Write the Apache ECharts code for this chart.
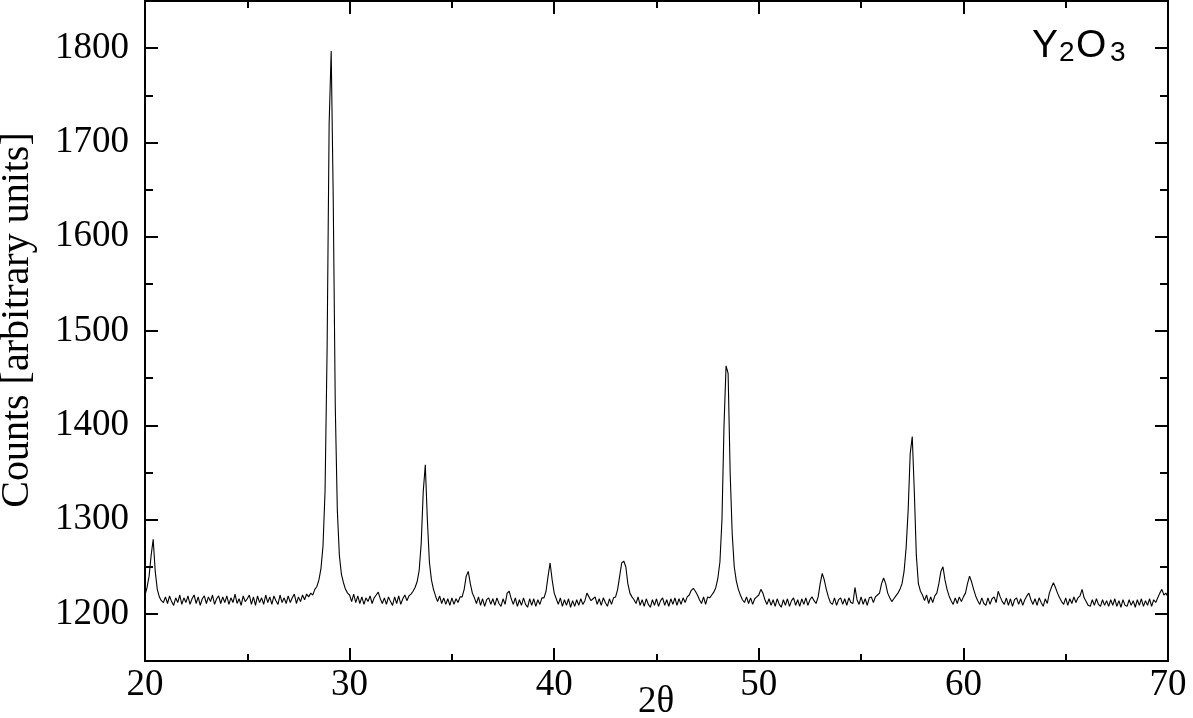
<!DOCTYPE html>
<html><head><meta charset="utf-8">
<script src="https://cdn.jsdelivr.net/npm/echarts@6/dist/echarts.min.js"></script>
<style>html,body{margin:0;padding:0;background:#fff}#c{width:1193px;height:718px}</style>
</head><body><div id="c"></div>
<script>
// 2θ sampling of the scan (degrees)
const thetaStart = 20;
const thetaStep = 0.1;
const counts = [
 1220,1228,1240,1262,1279,1245,1226,1218,1214,1212, // 20
 1218,1211,1219,1213,1209,1217,1212,1220,1210,1217, // 21
 1212,1219,1210,1216,1220,1211,1218,1209,1216,1219, // 22
 1211,1218,1213,1220,1210,1216,1219,1211,1218,1212, // 23
 1219,1210,1217,1212,1221,1211,1216,1209,1219,1213, // 24
 1216,1220,1210,1218,1209,1219,1212,1217,1210,1220, // 25
 1212,1218,1210,1219,1214,1210,1220,1212,1217,1211, // 26
 1219,1212,1217,1221,1211,1218,1213,1220,1215,1221, // 27
 1218,1222,1220,1226,1229,1236,1248,1272,1330,1480, // 28
 1720,1797,1640,1420,1310,1262,1242,1233,1226,1222, // 29
 1220,1213,1221,1212,1219,1211,1218,1210,1217,1213, // 30
 1219,1211,1217,1220,1223,1216,1211,1217,1210,1218, // 31
 1213,1209,1218,1211,1219,1210,1216,1220,1214,1219, // 32
 1221,1224,1228,1234,1246,1275,1330,1358,1300,1255, // 33
 1236,1226,1219,1213,1219,1211,1217,1210,1216,1209, // 34
 1217,1210,1216,1212,1218,1218,1226,1240,1245,1232, // 35
 1222,1217,1211,1218,1209,1216,1208,1215,1217,1210, // 36
 1216,1209,1217,1211,1208,1216,1210,1222,1224,1216, // 37
 1210,1217,1208,1215,1209,1217,1210,1207,1216,1209, // 38
 1216,1208,1215,1210,1217,1217,1224,1240,1254,1236, // 39
 1222,1216,1210,1217,1208,1215,1209,1216,1207,1214, // 40
 1208,1215,1209,1216,1210,1214,1222,1218,1214,1216, // 41
 1218,1210,1216,1209,1217,1212,1208,1216,1210,1217, // 42
 1218,1226,1240,1254,1256,1250,1232,1222,1218,1215, // 43
 1211,1218,1209,1215,1208,1216,1210,1207,1215,1209, // 44
 1216,1208,1214,1217,1209,1215,1208,1216,1210,1217, // 45
 1209,1216,1210,1217,1212,1218,1220,1225,1227,1224, // 46
 1220,1215,1211,1218,1210,1218,1217,1220,1223,1228, // 47
 1238,1255,1300,1400,1463,1455,1350,1285,1250,1235, // 48
 1226,1220,1215,1212,1218,1211,1217,1210,1216,1218, // 49
 1220,1226,1222,1215,1210,1216,1209,1215,1208,1216, // 50
 1210,1207,1215,1209,1216,1208,1214,1217,1209,1215, // 51
 1208,1216,1210,1217,1209,1215,1218,1214,1211,1218, // 52
 1232,1243,1236,1226,1218,1212,1210,1217,1209,1215, // 53
 1217,1210,1216,1209,1217,1212,1211,1228,1215,1210, // 54
 1218,1210,1216,1209,1217,1218,1212,1218,1220,1222, // 55
 1232,1238,1232,1222,1217,1213,1216,1219,1222,1226, // 56
 1232,1245,1270,1310,1370,1388,1330,1262,1232,1224, // 57
 1220,1214,1220,1211,1218,1212,1219,1222,1232,1245, // 58
 1250,1236,1226,1219,1214,1210,1217,1211,1218,1213, // 59
 1218,1222,1232,1240,1234,1226,1219,1214,1210,1217, // 60
 1211,1209,1217,1210,1216,1218,1212,1224,1218,1213, // 61
 1210,1217,1209,1216,1208,1215,1217,1210,1216,1209, // 62
 1215,1219,1222,1215,1210,1216,1209,1217,1212,1208, // 63
 1216,1211,1222,1228,1233,1228,1222,1217,1213,1210, // 64
 1217,1209,1216,1211,1218,1212,1217,1219,1226,1217, // 65
 1213,1209,1208,1215,1209,1216,1210,1208,1215,1209, // 66
 1214,1208,1215,1209,1216,1208,1214,1207,1215,1209, // 67
 1208,1215,1209,1214,1207,1215,1209,1216,1208,1214, // 68
 1209,1216,1208,1215,1212,1217,1222,1226,1220,1222, // 69
 1218                                               // 70
];
const xMin = 20, xMax = 70, xInterval = 10;
const yMin = 1150, yMax = 1850;
const yMajorTicks = [1200, 1300, 1400, 1500, 1600, 1700, 1800];
const yMinorTicks = [1150, 1250, 1350, 1450, 1550, 1650, 1750, 1850];
const xName = '2θ';
const yName = 'Counts [arbitrary units]';

const points = counts.map((c, i) => [+(thetaStart + i * thetaStep).toFixed(2), c]);

const serif = '"Liberation Serif", "Times New Roman", serif';
const sans = '"Liberation Sans", Arial, sans-serif';
const tickStyle = { color: '#000', width: 2 };

function xAxisDef(pos, labels) {
  return {
    type: 'value', position: pos, min: xMin, max: xMax, interval: xInterval,
    axisLine: { show: false },
    axisTick: { show: true, inside: true, length: 13, lineStyle: tickStyle },
    minorTick: { show: true, splitNumber: 2, length: 7, lineStyle: tickStyle },
    axisLabel: { show: labels, color: '#000', fontFamily: serif, fontSize: 37, margin: 6, formatter: v => String(v) },
    splitLine: { show: false }, minorSplitLine: { show: false }
  };
}
function yAxisDef(pos, ticks, len, labels) {
  return {
    type: 'value', position: pos, min: yMin, max: yMax,
    axisLine: { show: false },
    axisTick: { show: true, inside: true, length: len, lineStyle: tickStyle, customValues: ticks },
    axisLabel: { show: labels, color: '#000', fontFamily: serif, fontSize: 37, margin: 16, customValues: ticks, formatter: v => String(v) },
    splitLine: { show: false }
  };
}
function txt(x, y, text, font, align, vAlign, extra) {
  return Object.assign({ type: 'text', x: x, y: y,
    style: { text: text, fill: '#000', font: font, textAlign: align, textVerticalAlign: vAlign, align: align, verticalAlign: vAlign } }, extra || {});
}

const chart = echarts.init(document.getElementById('c'), null, { renderer: 'canvas' });
chart.setOption({
  animation: false,
  backgroundColor: '#fff',
  grid: { left: 145, right: 25, top: 1, bottom: 57, show: true, borderColor: '#000', borderWidth: 2, backgroundColor: 'transparent' },
  xAxis: [xAxisDef('bottom', true), xAxisDef('top', false)],
  yAxis: [
    yAxisDef('left', yMajorTicks, 13, true),
    yAxisDef('left', yMinorTicks, 8, false),
    yAxisDef('right', yMajorTicks, 13, false),
    yAxisDef('right', yMinorTicks, 8, false)
  ],
  series: [{
    type: 'line', data: points, xAxisIndex: 0, yAxisIndex: 0,
    showSymbol: false, symbol: 'none', silent: true,
    lineStyle: { color: '#000', width: 1.1 }
  }],
  graphic: [
    txt(17, 320, yName, '40px ' + serif, 'center', 'middle', { rotation: Math.PI / 2 }),
    txt(656, 702, xName, '37px ' + serif, 'center', 'middle'),
    txt(1032, 27, 'Y', '39px ' + sans, 'left', 'top'),
    txt(1059, 39, '2', '28px ' + sans, 'left', 'top'),
    txt(1076, 27, 'O', '39px ' + sans, 'left', 'top'),
    txt(1110, 39, '3', '28px ' + sans, 'left', 'top')
  ]
});
</script>
</body></html>
